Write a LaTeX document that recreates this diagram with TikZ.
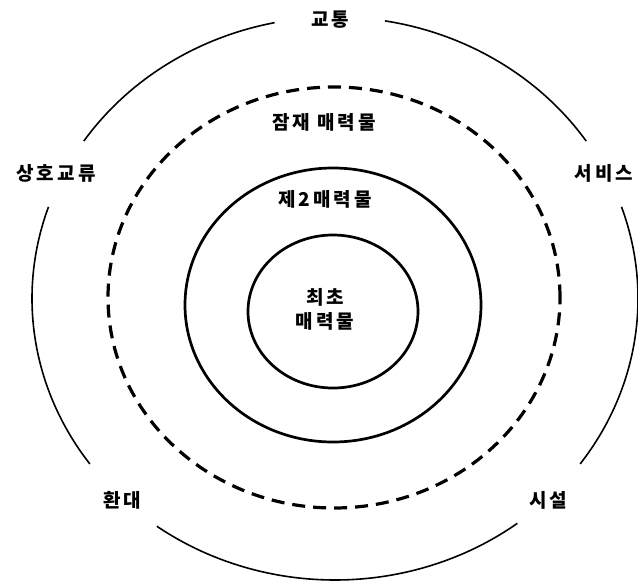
\documentclass[tikz,border=0pt]{standalone}
\usepackage{fontspec}
\newfontfamily\kr{Noto Sans CJK KR}[LetterSpace=16]
\begin{document}
\begin{tikzpicture}[x=1pt,y=-1pt,
  lbl/.style={font=\kr\bfseries\fontsize{19}{24}\selectfont, inner sep=0pt, align=center},
  thinring/.style={line width=1.6pt},
  ring/.style={line width=2.7pt},
  dashring/.style={line width=3.2pt, dash pattern=on 13pt off 8pt}]
\useasboundingbox (0,0) rectangle (638,582);
\coordinate (O) at (335,298.5);
% inner rings
\draw[ring] (333,311.5) ellipse [x radius=85pt, y radius=76.5pt];
\draw[ring] (333,305) ellipse [x radius=148pt, y radius=137pt];
\draw[dashring] (334,297.5) ellipse [x radius=226pt, y radius=210.5pt];
% outer broken ring
\foreach \a/\b in {101.5/146, 34/80.5, 161/216, -36/19, 234/307}{
  \draw[thinring] ([shift={(\a:303pt and 281.5pt)}]O) arc[start angle=\a, end angle=\b, x radius=303pt, y radius=281.5pt];
}
% labels
\node[lbl] (traffic) at (330,20) {교통};
\node[lbl] (potential) at (324,122) {잠재 매력물};
\node[lbl] (second) at (325,199) {제2매력물};
\node[lbl] (first) at (325,309) {최초\\매력물};
\node[lbl] (exchange) at (56,173) {상호교류};
\node[lbl] (service) at (604,173) {서비스};
\node[lbl] (hospitality) at (122,500) {환대};
\node[lbl] (facility) at (548,500) {시설};
\end{tikzpicture}
\end{document}
